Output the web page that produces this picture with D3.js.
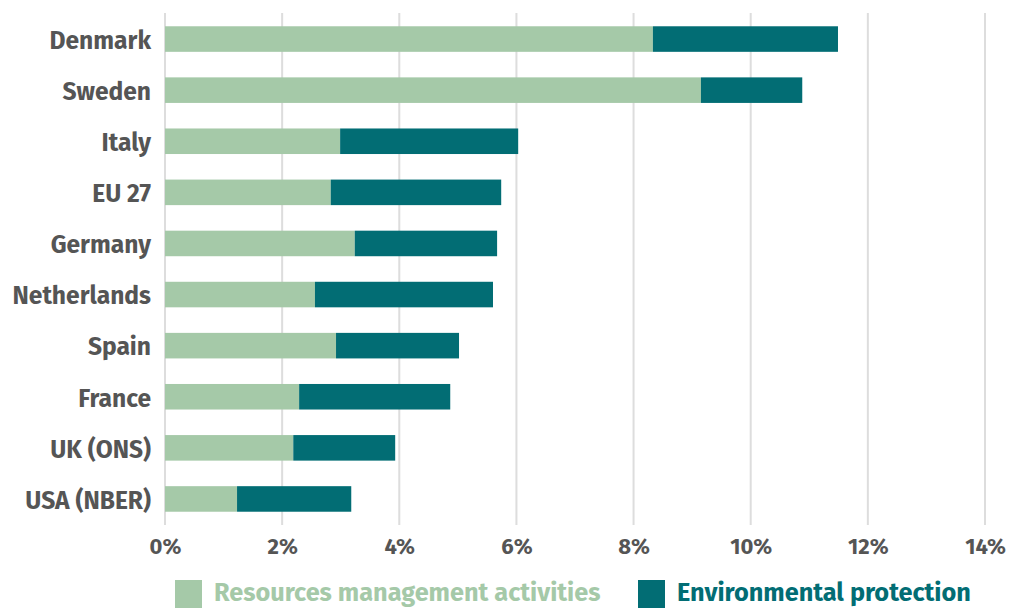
<!DOCTYPE html>
<html>
<head>
<meta charset="utf-8">
<script src="https://cdn.jsdelivr.net/npm/d3@7"></script>
<style>
  html, body { margin: 0; padding: 0; background: #fff; }
  svg { display: block; }
  text { font-family: "Fira Sans", "Noto Sans", "Open Sans", sans-serif; font-weight: 700; }
</style>
</head>
<body>
<svg id="chart" width="1014" height="608"></svg>
<script>
// Share of economy by country, split into two activity types (percent)
const countries = ["Denmark", "Sweden", "Italy", "EU 27", "Germany", "Netherlands", "Spain", "France", "UK (ONS)", "USA (NBER)"];
const resourcesManagement = [8.33, 9.15, 2.99, 2.83, 3.24, 2.56, 2.92, 2.29, 2.19, 1.23];
const environmentalProtection = [3.16, 1.73, 3.04, 2.91, 2.43, 3.04, 2.10, 2.58, 1.74, 1.95];
const seriesNames = ["Resources management activities", "Environmental protection"];
const xTicks = [0, 2, 4, 6, 8, 10, 12, 14];

const colors = ["#a5c9a8", "#026d74"];
const labelColor = "#555555";

const svg = d3.select("#chart");
const margin = { left: 165, right: 29, top: 13, bottom: 83 };
const width = 1014, height = 608;

const x = d3.scaleLinear().domain([0, 14]).range([margin.left, width - margin.right]);
const y = d3.scaleBand().domain(countries).range([13.5, 524.5]).paddingInner(0.5).paddingOuter(0.25);

// vertical gridlines
svg.append("g")
  .selectAll("line")
  .data(xTicks)
  .join("line")
  .attr("x1", d => x(d)).attr("x2", d => x(d))
  .attr("y1", margin.top).attr("y2", 525)
  .attr("stroke", "#dddddd").attr("stroke-width", 2);

// stacked bars
const rows = countries.map((c, i) => ({ country: c, a: resourcesManagement[i], b: environmentalProtection[i] }));
const stack = d3.stack().keys(["a", "b"])(rows);

svg.append("g")
  .selectAll("g")
  .data(stack)
  .join("g")
  .attr("fill", (d, i) => colors[i])
  .selectAll("rect")
  .data(d => d)
  .join("rect")
  .attr("x", d => x(d[0]))
  .attr("width", d => x(d[1]) - x(d[0]))
  .attr("y", d => y(d.data.country))
  .attr("height", y.bandwidth());

// country axis
const yAxis = svg.append("g")
  .attr("transform", `translate(${margin.left},0)`)
  .call(d3.axisLeft(y).tickSize(0).tickPadding(14));
yAxis.select(".domain").remove();
yAxis.selectAll("text")
  .attr("fill", labelColor)
  .attr("dy", "0.4em")
  .style("font-size", "24.6px")
  .style("font-weight", 700);

// percent axis
const xAxis = svg.append("g")
  .attr("transform", `translate(0,525)`)
  .call(d3.axisBottom(x).tickValues(xTicks).tickFormat(d => d + "%").tickSize(0).tickPadding(13));
xAxis.select(".domain").remove();
xAxis.selectAll("text")
  .attr("fill", labelColor)
  .style("font-size", "22px")
  .style("font-weight", 700);

// legend
const legendItems = [
  { x: 175, name: seriesNames[0], color: colors[0] },
  { x: 638, name: seriesNames[1], color: colors[1] }
];
const legend = svg.append("g")
  .selectAll("g")
  .data(legendItems)
  .join("g")
  .attr("transform", d => `translate(${d.x},580)`);
legend.append("rect")
  .attr("width", 27).attr("height", 28)
  .attr("fill", d => d.color);
legend.append("text")
  .attr("x", 39).attr("y", 21)
  .attr("fill", d => d.color)
  .style("font-size", "25.3px")
  .text(d => d.name);
</script>
</body>
</html>
